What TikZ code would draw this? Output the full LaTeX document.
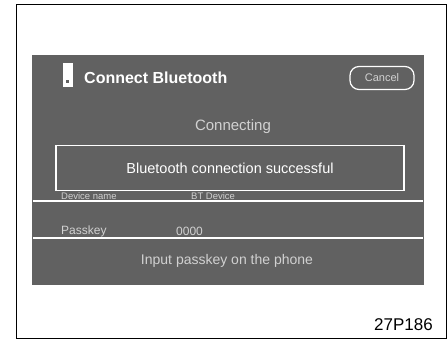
\documentclass[tikz,border=0pt]{standalone}
\usepackage{fontspec}
\setmainfont{Liberation Sans}
\usepackage{tikz}
\begin{document}
\begin{tikzpicture}[x=1pt,y=-1pt]
	\tikzset{
		screentext/.style={text=black!18,font=\fontsize{12}{12}\selectfont,inner sep=1pt},
		sepline/.style={draw=white,line width=1.2pt}
	}
	\useasboundingbox (0,0) rectangle (448,340);
	\draw[black,line width=0.8pt] (16,4) rectangle (446,338);

	\node[shape=rectangle,fill=black!62,minimum width=392pt,minimum height=230pt,inner sep=0pt] (screen) at (228,170) {};
	\node[shape=rectangle,fill=white,minimum width=10pt,minimum height=24pt,inner sep=0pt] (phone) at (68,75) {};
	\node[shape=rectangle,fill=black!62,minimum width=3pt,minimum height=3pt,inner sep=0pt] (phonekey) at (67,81) {};
	\node[text=white,font=\fontsize{16}{16}\selectfont\bfseries,anchor=west,inner sep=0pt] (title) at (84,78) {Connect Bluetooth};
	\node[shape=rectangle,rounded corners=9pt,draw=white,line width=1.2pt,minimum width=64pt,minimum height=23pt,screentext,font=\fontsize{11}{11}\selectfont] (cancel) at (382,78) {Cancel};
	\node[screentext,font=\fontsize{15}{15}\selectfont] (status) at (233,127) {Connecting};
	\node[shape=rectangle,draw=white,line width=1.4pt,minimum width=348pt,minimum height=45pt,text=white,font=\fontsize{14.5}{14.5}\selectfont] (success) at (230,168) {Bluetooth connection successful};

	\coordinate (rowonea) at (33,201);
	\coordinate (rowoneb) at (423,201);
	\coordinate (rowtwoa) at (33,238);
	\coordinate (rowtwob) at (423,238);
	\path[sepline] (rowonea) edge (rowoneb);
	\path[sepline] (rowtwoa) edge (rowtwob);

	\node[screentext,font=\fontsize{9.5}{9.5}\selectfont,anchor=west] (devlabel) at (60,196) {Device name};
	\node[screentext,font=\fontsize{9.5}{9.5}\selectfont,anchor=west] (devname) at (190,196) {BT Device};
	\node[screentext,anchor=west] (keylabel) at (60,231) {Passkey};
	\node[screentext,anchor=west] (keyvalue) at (175,231) {0000};
	\node[screentext,font=\fontsize{14}{14}\selectfont] (hint) at (227,261) {Input passkey on the phone};

	\node[anchor=east,font=\fontsize{17}{17}\selectfont,inner sep=0pt] (figno) at (433,325) {27P186};
\end{tikzpicture}
\end{document}
